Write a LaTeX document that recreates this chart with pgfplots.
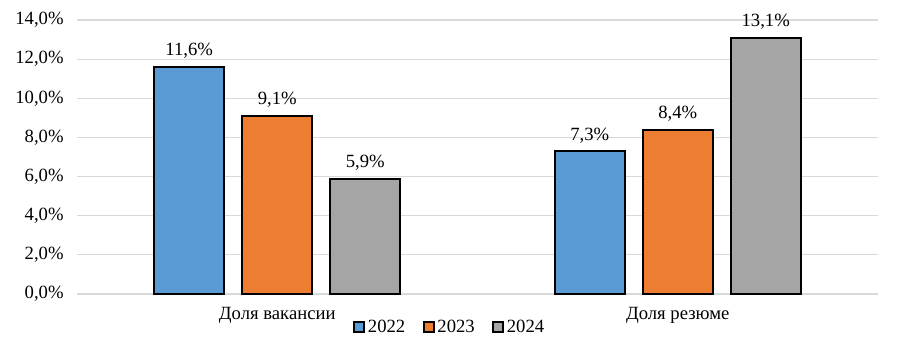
\documentclass[border=0pt]{standalone}
\usepackage{fontspec}
\setmainfont{Liberation Serif}
\usepackage{pgfplots}
\pgfplotsset{compat=1.18}
\definecolor{cA}{HTML}{5B9BD5}
\definecolor{cB}{HTML}{ED7D31}
\definecolor{cC}{HTML}{A5A5A5}
\definecolor{gridc}{HTML}{D9D9D9}
\begin{document}
\begin{tikzpicture}
\path[use as bounding box] (0,0) rectangle (675pt,268.5pt);
\begin{axis}[
  at={(57.75pt,48pt)}, anchor=south west,
  scale only axis, width=600.75pt, height=205.5pt,
  ybar=13.5pt, bar width=52.5pt,
  xmin=-0.5, xmax=1.5, ymin=0, ymax=14,
  xtick={0,1}, xticklabels={Доля вакансии, Доля резюме},
  ytick={0,2,4,6,8,10,12,14},
  yticklabel={\pgfmathprintnumber[fixed,fixed zerofill,precision=1,use comma]{\tick}\%},
  /pgf/number format/assume math mode=true,
  axis line style={draw=none}, tick style={draw=none},
  ymajorgrids, grid style={gridc, line width=0.9pt},
  font=\fontsize{14pt}{16pt}\selectfont,
  ticklabel style={font=\fontsize{14pt}{16pt}\selectfont},
  yticklabel style={xshift=-6.5pt},
  xticklabel style={yshift=-2pt},
  nodes near coords={\pgfmathprintnumber[fixed,fixed zerofill,precision=1,use comma]{\pgfplotspointmeta}\%},
  nodes near coords style={font=\fontsize{14pt}{16pt}\selectfont, yshift=2pt},
  legend style={at={(0.4657,-0.1204)}, anchor=center, draw=none, fill=none,
    legend columns=3, font=\fontsize{14pt}{16pt}\selectfont,
    /tikz/every even column/.append style={column sep=11pt},
    /tikz/every odd column/.append style={column sep=0pt},
    inner sep=0pt},
  legend image code/.code={\draw[#1, line width=1.5pt] (0pt,-3.8pt) rectangle (7.6pt,3.8pt);},
]
\addplot[fill=cA, draw=black, line width=1.5pt] coordinates {(0,11.6) (1,7.3)};
\addplot[fill=cB, draw=black, line width=1.5pt] coordinates {(0,9.1) (1,8.4)};
\addplot[fill=cC, draw=black, line width=1.5pt] coordinates {(0,5.9) (1,13.1)};
\legend{2022,2023,2024}
\end{axis}
\end{tikzpicture}
\end{document}
